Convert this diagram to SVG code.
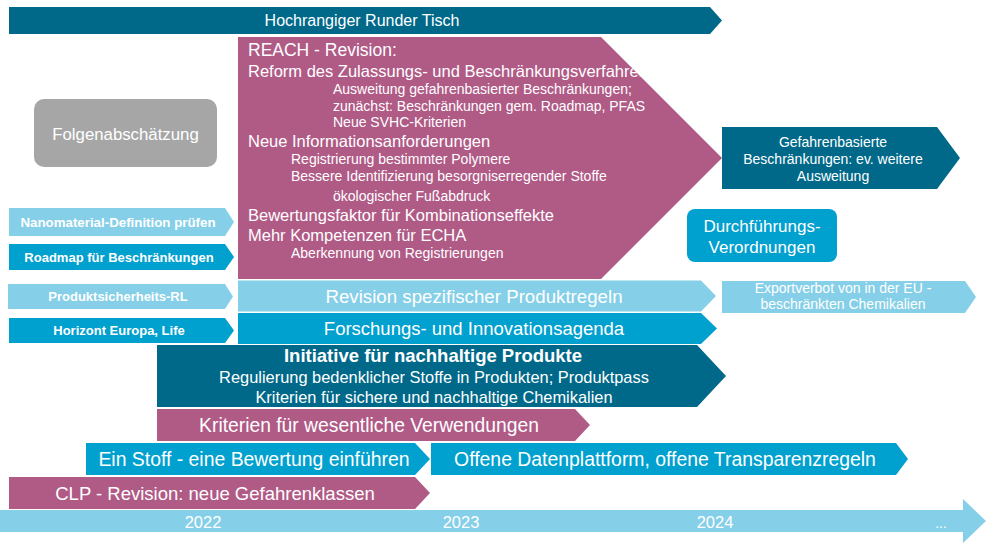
<svg xmlns="http://www.w3.org/2000/svg" width="996" height="549" viewBox="0 0 996 549">
<defs>
<style>
.pk{fill:#B05A86}.dk{fill:#00698A}.md{fill:#00A0CF}.lt{fill:#86CFE8}.gr{fill:#A6A6A6}
text{font-family:"Liberation Sans",Arial,sans-serif;fill:#fff}
.c{text-anchor:middle}
.b{font-weight:bold}
.h1{font-size:17.5px}.h2{font-size:16.5px}.h3{font-size:14px}
</style>
<clipPath id="reachClip"><polygon points="238,37 601,37 722,158 601,279 238,279"/></clipPath>
</defs>
<rect width="996" height="549" fill="#fff"/>

<g id="timeline">
<polygon class="lt" points="0,510 963,510 963,499 986,521 963,543 963,532 0,532"/>
<text class="c" x="203" y="528" font-size="16.5">2022</text>
<text class="c" x="461" y="528" font-size="16.5">2023</text>
<text class="c" x="715" y="528" font-size="16.5">2024</text>
<text class="c" x="941" y="528" font-size="14">...</text>
</g>

<g id="runder-tisch">
<polygon class="dk" points="9,7 710,7 722,20.5 710,34 9,34"/>
<text class="c" x="362" y="26" font-size="16">Hochrangiger Runder Tisch</text>
</g>

<g id="folgenabschaetzung">
<rect class="gr" x="34" y="99" width="183" height="68" rx="10"/>
<text class="c" x="125.5" y="140" font-size="16.8">Folgenabschätzung</text>
</g>

<g id="reach">
<polygon class="pk" points="238,37 601,37 722,158 601,279 238,279"/>
<g clip-path="url(#reachClip)">
<text class="h1" x="248" y="56">REACH - Revision:</text>
<text class="h2" x="248" y="77">Reform des Zulassungs- und Beschränkungsverfahren</text>
<text class="h3" x="333" y="94">Ausweitung gefahrenbasierter Beschränkungen;</text>
<text class="h3" x="333" y="111">zunächst: Beschränkungen gem. Roadmap, PFAS</text>
<text class="h3" x="333" y="127">Neue SVHC-Kriterien</text>
<text class="h2" x="248" y="147">Neue Informationsanforderungen</text>
<text class="h3" x="291" y="164">Registrierung bestimmter Polymere</text>
<text class="h3" x="291" y="181">Bessere Identifizierung besorgniserregender Stoffe</text>
<text class="h3" x="333" y="201">ökologischer Fußabdruck</text>
<text class="h2" x="248" y="221">Bewertungsfaktor für Kombinationseffekte</text>
<text class="h2" x="248" y="241">Mehr Kompetenzen für ECHA</text>
<text class="h3" x="291" y="258">Aberkennung von Registrierungen</text>
</g>
</g>

<g id="nanomaterial">
<polygon class="lt" points="9,208 225,208 234,222 225,236 9,236"/>
<text class="c b" x="118" y="226.5" font-size="13.3">Nanomaterial-Definition prüfen</text>
</g>
<g id="roadmap">
<polygon class="md" points="9,244 225,244 234,257 225,270 9,270"/>
<text class="c b" x="119" y="262" font-size="13">Roadmap für Beschränkungen</text>
</g>
<g id="produktsicherheit">
<polygon class="lt" points="8,284 225,284 233,296.5 225,309 8,309"/>
<text class="c b" x="118" y="301" font-size="13">Produktsicherheits-RL</text>
</g>
<g id="horizont">
<polygon class="md" points="9,318 225,318 234,330.5 225,343 9,343"/>
<text class="c b" x="119" y="335" font-size="13">Horizont Europa, Life</text>
</g>

<g id="revision-produktregeln">
<polygon class="lt" points="238,280.5 701,280.5 716,296 701,311.5 238,311.5"/>
<text class="c" x="474" y="302.5" font-size="18.7">Revision spezifischer Produktregeln</text>
</g>
<g id="forschung">
<polygon class="md" points="238,313 701,313 717,328.5 701,344 238,344"/>
<text class="c" x="474" y="335" font-size="18.5">Forschungs- und Innovationsagenda</text>
</g>
<g id="initiative">
<polygon class="dk" points="157,345 697,345 726,376 697,407 157,407"/>
<text class="c b" x="433" y="362" font-size="18.5">Initiative für nachhaltige Produkte</text>
<text class="c" x="434" y="383" font-size="16.4">Regulierung bedenklicher Stoffe in Produkten; Produktpass</text>
<text class="c" x="434" y="403" font-size="16.4">Kriterien für sichere und nachhaltige Chemikalien</text>
</g>
<g id="wesentliche-verwendungen">
<polygon class="pk" points="157,409 575,409 590,425 575,441 157,441"/>
<text class="c" x="369" y="431.5" font-size="19.3">Kriterien für wesentliche Verwendungen</text>
</g>
<g id="ein-stoff">
<polygon class="md" points="86,443 415,443 430,459 415,475 86,475"/>
<text class="c" x="254" y="466" font-size="19.4">Ein Stoff - eine Bewertung einführen</text>
</g>
<g id="datenplattform">
<polygon class="md" points="431,443 896,443 908,459 896,475 431,475"/>
<text class="c" x="665" y="466" font-size="19.4">Offene Datenplattform, offene Transparenzregeln</text>
</g>
<g id="clp">
<polygon class="pk" points="9,477 415,477 430,493 415,509 9,509"/>
<text class="c" x="215" y="499.5" font-size="18.5">CLP - Revision: neue Gefahrenklassen</text>
</g>

<g id="gefahrenbasiert">
<polygon class="dk" points="722,127 937,127 960,158 937,189 722,189"/>
<text class="c" x="833" y="147" font-size="14">Gefahrenbasierte</text>
<text class="c" x="833" y="164" font-size="14">Beschränkungen: ev. weitere</text>
<text class="c" x="833" y="181" font-size="14">Ausweitung</text>
</g>
<g id="durchfuehrung">
<rect class="md" x="687" y="209" width="150" height="53" rx="8"/>
<text class="c" x="762" y="232" font-size="17">Durchführungs-</text>
<text class="c" x="762" y="253" font-size="17">Verordnungen</text>
</g>
<g id="exportverbot">
<polygon class="lt" points="722,281 965,281 976,297 965,313 722,313"/>
<text class="c" x="843" y="293" font-size="14">Exportverbot von in der EU -</text>
<text class="c" x="843" y="309" font-size="14">beschränkten Chemikalien</text>
</g>

<g id="connectors"/>
</svg>
